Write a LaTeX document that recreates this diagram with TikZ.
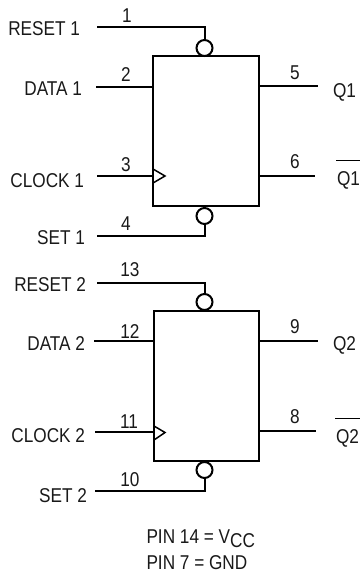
\documentclass[tikz,border=0pt]{standalone}
\usepackage{fontspec}
\setmainfont[FakeStretch=0.86]{Liberation Sans}
\tikzset{
  every node/.style={font=\fontsize{20}{22}\selectfont,inner sep=0pt,outer sep=0pt,text=black!90},
  ffbox/.style={draw,line width=2pt,minimum width=106pt,minimum height=150pt,anchor=north west},
  bub/.style={draw,circle,line width=2pt,minimum size=16pt,fill=white},
  wire/.style={line width=2pt},
  sig/.style={anchor=base east},
  sigout/.style={anchor=base west},
  pin/.style={anchor=base}
}
\begin{document}
\begin{tikzpicture}[x=1pt,y=-1pt]
\useasboundingbox (0,0) rectangle (360,573);
% ---- flip-flop 1
\node[ffbox] (ff1) at (153,56) {};
\coordinate (r1) at (97,27);
\coordinate (d1) at (96,87);
\coordinate (c1) at (97,176);
\coordinate (s1) at (97,236);
\coordinate (q1) at (318,86);
\coordinate (n1) at (315,176);
\coordinate (d1i) at (153,87);
\coordinate (c1i) at (153,176);
\coordinate (q1i) at (259,86);
\coordinate (n1i) at (259,176);
\node[bub] (r1b) at (204.5,48) {};
\node[bub] (s1b) at (204.5,216) {};
\draw[wire] (r1) -| (r1b.north);
\draw[wire] (s1) -| (s1b.south);
\draw[wire] (d1) -- (d1i);
\draw[wire] (c1) -- (c1i);
\draw[wire] (q1i) -- (q1);
\draw[wire] (n1i) -- (n1);
\draw[line width=1.5pt] (153,169) -- (165,176) -- (153,183);
\node[sig] (tr1) at (80,35) {RESET 1};
\node[sig] (td1) at (82,95) {DATA 1};
\node[sig] (tc1) at (84,187) {CLOCK 1};
\node[sig] (ts1) at (85,244) {SET 1};
\node[pin] (p1) at (127,22.5) {1};
\node[pin] (p2) at (126,81) {2};
\node[pin] (p3) at (126,171) {3};
\node[pin] (p4) at (126,230) {4};
\node[pin] (p5) at (295,79) {5};
\node[pin] (p6) at (295,168) {6};
\node[sigout] (tq1) at (333,97) {Q1};
\node[sigout] (tn1) at (337,185) {Q1};
\draw[line width=1pt] (336,160.5) -- (360,160.5);
% ---- flip-flop 2
\node[ffbox,minimum width=105pt] (ff2) at (154,311) {};
\coordinate (r2) at (97,283);
\coordinate (d2) at (94,341);
\coordinate (c2) at (95,432);
\coordinate (s2) at (95,491);
\coordinate (q2) at (318,341);
\coordinate (n2) at (316,431);
\coordinate (d2i) at (154,341);
\coordinate (c2i) at (154,432);
\coordinate (q2i) at (259,341);
\coordinate (n2i) at (259,431);
\node[bub] (r2b) at (204.5,302) {};
\node[bub] (s2b) at (204.5,470) {};
\draw[wire] (r2) -| (r2b.north);
\draw[wire] (s2) -| (s2b.south);
\draw[wire] (d2) -- (d2i);
\draw[wire] (c2) -- (c2i);
\draw[wire] (q2i) -- (q2);
\draw[wire] (n2i) -- (n2);
\draw[line width=1.5pt] (154,426) -- (165,432.5) -- (154,440);
\node[sig] (tr2) at (86,291.5) {RESET 2};
\node[sig] (td2) at (85,350.5) {DATA 2};
\node[sig] (tc2) at (85,442.5) {CLOCK 2};
\node[sig] (ts2) at (87,502) {SET 2};
\node[pin] (p13) at (130,276) {13};
\node[pin] (p12) at (130,338) {12};
\node[pin] (p11) at (129,428) {11};
\node[pin] (p10) at (130,486) {10};
\node[pin] (p9) at (295,333) {9};
\node[pin] (p8) at (295,423) {8};
\node[sigout] (tq2) at (333,350) {Q2};
\node[sigout] (tn2) at (336,443) {Q2};
\draw[line width=1pt] (335,418) -- (360,418);
% ---- notes
\node[anchor=base west] (n14) at (146.5,543) {PIN 14 = V\raisebox{-4pt}{CC}};
\node[anchor=base west] (n7) at (146.5,569) {PIN 7 = GND};
\end{tikzpicture}
\end{document}
